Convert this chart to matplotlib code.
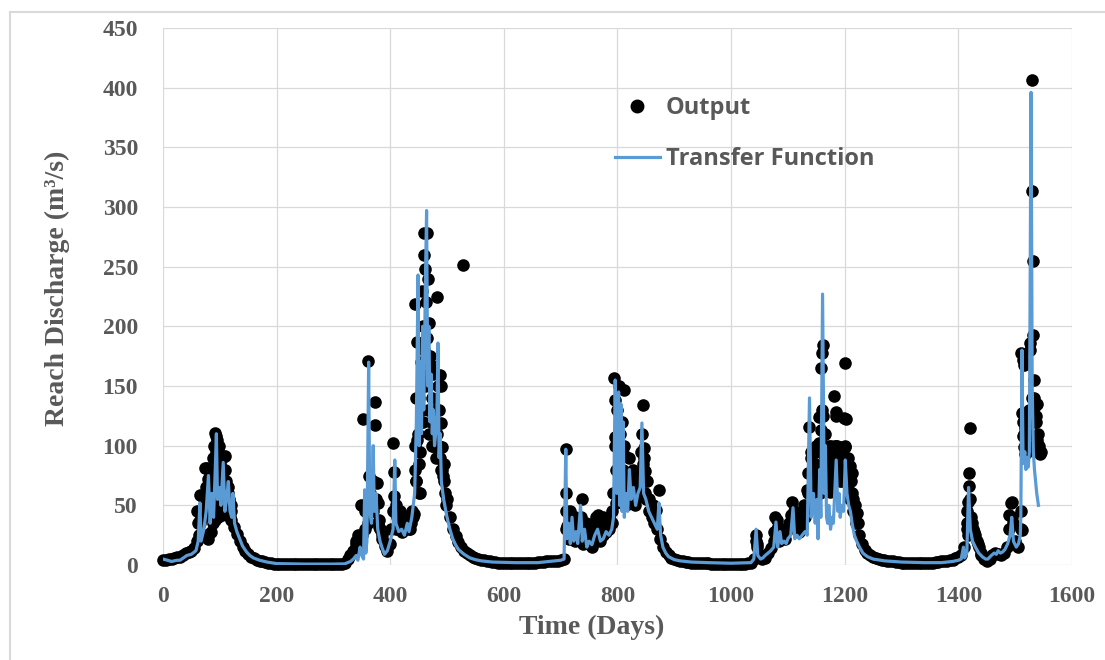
import numpy as np
import matplotlib
matplotlib.use("Agg")
import matplotlib.pyplot as plt
from matplotlib.lines import Line2D

# --- style ---
GRID_COLOR = "#d9d9d9"
TEXT_COLOR = "#595959"
TF_BLUE = "#5B9BD5"

plt.rcParams["font.family"] = ["Liberation Serif", "DejaVu Serif"]
plt.rcParams["font.weight"] = "bold"

# --- data: simulated reach output, one value every 5 days (days 0..1545) ---
output_days = np.arange(0, 1550, 5)
output_band = [
    4, 4, 5, 5, 6, 7, 7, 8, 10, 11,                  # 0-45
    12, 14, 20, 38, 48, 55, 45, 70, 60, 105,         # 50-95
    65, 80, 55, 45, 38, 32, 26, 20, 15, 12,          # 100-145
    9, 7, 5.5, 4.5, 3.5, 3, 2.5, 2, 1.5, 1.2,        # 150-195
    1, 1, 0.8, 0.8, 0.6, 0.6, 0.5, 0.5, 0.5, 0.5,    # 200-245
    0.5, 0.5, 0.5, 0.5, 0.5, 0.5, 0.5, 0.5, 0.5, 0.5,
    0.5, 0.5, 0.8, 1, 2, 5, 8, 12, 18, 15,           # 300-345
    25, 45, 35, 60, 45, 55, 32, 22, 16, 12,          # 350-395
    18, 45, 30, 35, 28, 32, 35, 30, 40, 70,          # 400-445
    60, 120, 180, 160, 130, 110, 100, 90, 80, 70,    # 450-495
    55, 40, 30, 24, 19, 15, 12, 10, 8, 7,            # 500-545
    6, 5, 4.5, 4, 3.5, 3, 2.5, 2.5, 2, 2,            # 550-595
    2, 2, 2, 2, 2, 2, 2, 2, 2, 2,                    # 600-645
    2, 2, 2.5, 2.5, 2.5, 3, 3, 3, 3.5, 3.5,          # 650-695
    4, 5, 30, 22, 35, 20, 25, 40, 18, 22,            # 700-745
    18, 15, 25, 30, 20, 25, 28, 30, 35, 100,         # 750-795
    80, 110, 60, 50, 65, 55, 50, 60, 70, 85,         # 800-845
    55, 45, 40, 35, 30, 22, 15, 11, 8, 6,            # 850-895
    5, 4, 3.5, 3, 2.5, 2.5, 2, 2, 2, 1.5,            # 900-945
    1.5, 1.5, 1.5, 1.2, 1.2, 1.2, 1, 1, 1, 1,        # 950-995
    1, 1, 1, 1, 1.2, 1.2, 1.5, 1.5, 5, 15,           # 1000-1045
    8, 5, 6, 10, 14, 20, 30, 20, 25, 22,             # 1050-1095
    30, 35, 45, 30, 28, 32, 40, 60, 90, 70,          # 1100-1145
    65, 80, 130, 100, 80, 70, 85, 100, 80, 75,       # 1150-1195
    100, 70, 55, 45, 35, 25, 18, 13, 10, 8,          # 1200-1245
    6.5, 5.5, 5, 4.5, 4, 3.5, 3, 3, 2.5, 2.5,        # 1250-1295
    2, 2, 2, 2, 2, 2, 2, 2, 2, 2,                    # 1300-1345
    2, 2, 2.5, 2.5, 3, 3, 3.5, 4, 4.5, 5.5,          # 1350-1395
    7, 8, 15, 30, 55, 30, 25, 18, 10, 5,             # 1400-1445
    3, 5, 8, 10, 9, 8, 10, 15, 30, 40,               # 1450-1495
    20, 15, 30, 110, 100, 130, 140, 120, 100, 95,    # 1500-1545
]

# extra daily output values inside the flood seasons (day, m3/s)
output_peaks_1 = [(59, 45), (62, 35), (65, 59), (68, 45), (72, 55), (74, 81), (77, 81),
                  (79, 72), (82, 77), (85, 50), (88, 90), (90, 100), (92, 111), (94, 108),
                  (96, 85), (98, 100), (100, 60), (102, 75), (104, 90), (106, 91), (108, 70),
                  (110, 91), (112, 55), (114, 60), (116, 50), (118, 40), (88, 35), (92, 38),
                  (97, 40), (103, 42), (75, 25), (80, 22), (85, 28), (86, 70), (87, 55),
                  (89, 45), (91, 65), (93, 95), (95, 75), (99, 50), (101, 85), (105, 65),
                  (107, 48), (109, 80), (111, 70), (113, 45), (115, 65), (117, 55), (119, 45),
                  (120, 50), (76, 65), (78, 55), (70, 40), (66, 35), (63, 25)]
output_peaks_2 = [(340, 20), (343, 25), (346, 22), (349, 50), (352, 122), (354, 50), (356, 30),
                  (361, 171), (363, 75), (365, 55), (367, 45), (370, 70), (373, 137), (374, 117),
                  (376, 69), (378, 52), (380, 38), (382, 30), (385, 25), (405, 102), (406, 78),
                  (407, 58), (409, 45), (412, 40), (420, 35), (430, 40), (438, 45), (441, 43),
                  (443, 80), (444, 100), (444, 219), (446, 140), (447, 187), (448, 105), (450, 85),
                  (452, 60), (454, 130), (456, 230), (458, 200), (459, 278), (460, 260), (461, 248),
                  (463, 220), (465, 278), (466, 240), (468, 203), (470, 175), (471, 168), (472, 120),
                  (474, 140), (476, 100), (478, 110), (480, 130), (482, 225), (484, 150), (486, 100),
                  (488, 159), (489, 150), (490, 119), (492, 99), (494, 85), (528, 251),
                  (402, 30), (410, 50), (414, 30), (417, 45), (423, 30), (426, 40), (433, 30),
                  (436, 35), (445, 70), (449, 110), (451, 140), (453, 95), (455, 170), (457, 120),
                  (462, 150), (464, 190), (467, 130), (469, 110), (473, 100), (475, 160),
                  (477, 130), (479, 100), (481, 90), (483, 110), (485, 130), (487, 90), (491, 80),
                  (493, 75), (496, 60), (498, 50)]
output_peaks_3 = [(709, 97), (709, 60), (710, 45), (712, 33), (716, 45), (720, 40), (724, 30),
                  (733, 35), (737, 55), (742, 30), (755, 30), (762, 40), (766, 42), (770, 30),
                  (780, 35), (786, 38), (790, 45), (793, 60), (794, 157), (795, 138), (796, 107),
                  (797, 80), (798, 52), (799, 130), (802, 150), (805, 90), (808, 120), (812, 147),
                  (814, 91), (816, 75), (819, 60), (822, 77), (826, 72), (830, 65), (834, 60),
                  (838, 62), (843, 80), (845, 134), (846, 98), (847, 90), (849, 79), (852, 70),
                  (855, 55), (862, 50), (868, 46), (873, 63), (800, 100), (803, 70), (806, 60),
                  (809, 80), (811, 100), (813, 65), (817, 55), (820, 90), (824, 60), (828, 80),
                  (832, 55), (836, 70), (840, 75), (842, 95), (844, 110), (848, 60), (718, 25),
                  (726, 40), (730, 30), (745, 35), (750, 25), (758, 35), (775, 40), (783, 30)]
output_peaks_4 = [(1043, 20), (1044, 25), (1046, 18), (1076, 28), (1078, 40), (1080, 38),
                  (1083, 32), (1085, 30), (1105, 42), (1108, 53), (1112, 40), (1120, 35),
                  (1130, 45), (1132, 44), (1134, 63), (1136, 77), (1138, 116), (1140, 95),
                  (1143, 60), (1147, 85), (1150, 100), (1152, 60), (1153, 80), (1154, 102),
                  (1155, 124), (1158, 113), (1159, 165), (1160, 178), (1161, 184), (1162, 125),
                  (1163, 100), (1165, 90), (1167, 75), (1168, 92), (1170, 95), (1172, 85),
                  (1174, 61), (1176, 100), (1178, 90), (1180, 75), (1182, 142), (1184, 128),
                  (1185, 125), (1187, 100), (1189, 95), (1191, 99), (1193, 90), (1195, 83),
                  (1198, 123), (1200, 169), (1201, 99), (1203, 122), (1205, 80), (1207, 75),
                  (1209, 83), (1210, 61), (1212, 77), (1215, 55), (1218, 50), (1221, 44), (1224, 35),
                  (1151, 70), (1156, 95), (1157, 60), (1164, 70), (1166, 110), (1169, 70),
                  (1171, 80), (1173, 100), (1175, 80), (1177, 70), (1179, 95), (1181, 85),
                  (1183, 100), (1186, 80), (1188, 75), (1190, 85), (1192, 70), (1194, 95),
                  (1196, 70), (1197, 90), (1199, 80), (1202, 90), (1204, 70), (1206, 90),
                  (1208, 60), (1211, 70), (1213, 60), (1145, 60), (1142, 75), (1148, 70),
                  (1102, 35), (1115, 40), (1118, 30), (1125, 38), (1128, 50)]
output_peaks_5 = [(1415, 35), (1416, 45), (1417, 53), (1418, 66), (1419, 77), (1420, 115),
                  (1417, 25), (1422, 40), (1424, 35), (1427, 28), (1432, 20), (1437, 15),
                  (1440, 8), (1490, 42), (1492, 52), (1494, 53), (1496, 35), (1511, 178),
                  (1511, 45), (1512, 29), (1512, 127), (1513, 108), (1513, 172), (1515, 168),
                  (1516, 99), (1518, 93), (1521, 100), (1523, 110), (1526, 186), (1530, 406),
                  (1530, 313), (1531, 255), (1532, 193), (1533, 155), (1535, 133), (1537, 125),
                  (1538, 135), (1540, 110), (1541, 100), (1543, 93), (1514, 120), (1517, 115),
                  (1519, 100), (1520, 95), (1522, 120), (1524, 100), (1527, 180), (1534, 140),
                  (1536, 120), (1539, 105), (1542, 100), (1544, 95)]

# transfer function model (day, m3/s), one list per season
tf_season_1 = [(0, 5), (8, 4), (15, 3), (25, 4), (30, 4), (36, 6), (42, 8), (50, 9), (58, 12),
               (62, 20), (65, 52), (67, 20), (72, 30), (76, 45), (80, 75), (83, 35), (86, 60),
               (89, 40), (92, 80), (94, 110), (96, 55), (99, 65), (102, 50), (106, 86), (109, 45),
               (112, 55), (115, 70), (118, 45), (121, 40), (123, 60), (126, 35), (130, 28),
               (135, 22), (140, 16), (147, 11), (153, 8), (159, 6), (170, 4), (183, 2.5),
               (200, 1.2), (250, 0.8), (300, 0.8), (320, 1)]
tf_season_2 = [(325, 2), (330, 3), (335, 5), (340, 8), (343, 4), (347, 15), (350, 8), (353, 5),
               (355, 63), (357, 10), (359, 20), (362, 170), (364, 45), (367, 35), (370, 100),
               (372, 45), (375, 60), (378, 30), (382, 20), (386, 14), (390, 9), (395, 12),
               (400, 20), (405, 30), (408, 88), (410, 35), (415, 28), (420, 30), (425, 25),
               (430, 35), (433, 28), (438, 40), (443, 60), (446, 120), (449, 243), (451, 100),
               (453, 170), (455, 110), (457, 200), (459, 130), (462, 240), (464, 297), (466, 150),
               (468, 200), (470, 120), (472, 160), (474, 110), (476, 130), (478, 100), (482, 120),
               (484, 186), (486, 90), (488, 110), (490, 70), (494, 55), (500, 40), (505, 30),
               (510, 22), (515, 17), (520, 13), (530, 9), (540, 6), (550, 4.5), (560, 3.5),
               (580, 2.5), (620, 2), (660, 2), (680, 3), (700, 4), (706, 5)]
tf_season_3 = [(709, 97), (711, 22), (714, 35), (717, 18), (720, 40), (723, 20), (727, 28),
               (730, 18), (735, 50), (738, 20), (742, 30), (746, 15), (750, 20), (755, 17),
               (760, 25), (765, 30), (770, 20), (775, 22), (780, 28), (785, 25), (790, 30),
               (793, 40), (796, 155), (799, 60), (802, 145), (804, 50), (806, 135), (808, 45),
               (810, 120), (812, 40), (815, 60), (818, 45), (821, 80), (824, 55), (828, 65),
               (832, 50), (836, 60), (840, 65), (843, 119), (846, 60), (850, 55), (855, 45),
               (860, 40), (865, 35), (870, 30), (873, 52), (876, 25), (880, 15), (885, 10),
               (890, 7), (900, 4.5), (910, 3.5), (930, 2.5), (960, 2), (1000, 1.5), (1035, 2)]
tf_season_4 = [(1040, 5), (1044, 30), (1047, 8), (1052, 5), (1056, 6), (1060, 8), (1065, 10),
               (1070, 12), (1075, 15), (1079, 36), (1082, 15), (1086, 28), (1089, 18), (1093, 20),
               (1097, 18), (1100, 22), (1105, 25), (1109, 48), (1112, 22), (1116, 25), (1120, 22),
               (1125, 25), (1130, 28), (1134, 25), (1138, 140), (1141, 40), (1145, 60), (1148, 35),
               (1151, 55), (1153, 22), (1156, 80), (1158, 40), (1161, 227), (1164, 60), (1166, 100),
               (1168, 40), (1170, 35), (1172, 50), (1175, 30), (1178, 40), (1180, 35), (1185, 88),
               (1188, 45), (1190, 60), (1192, 40), (1195, 50), (1198, 45), (1201, 88), (1204, 60),
               (1207, 50), (1210, 45), (1213, 35), (1217, 25), (1221, 20), (1226, 15), (1232, 10),
               (1240, 7), (1250, 5), (1270, 3.5), (1300, 2.5), (1340, 2), (1370, 2), (1390, 3),
               (1400, 4), (1405, 5)]
tf_season_5 = [(1409, 15), (1411, 6), (1415, 10), (1418, 65), (1421, 30), (1425, 20), (1430, 15),
               (1436, 10), (1442, 7), (1448, 5), (1452, 5), (1458, 8), (1463, 10), (1467, 9),
               (1470, 12), (1474, 10), (1478, 11), (1482, 13), (1487, 18), (1491, 25), (1494, 40),
               (1497, 20), (1502, 15), (1506, 18), (1509, 25), (1510, 40), (1512, 180), (1514, 85),
               (1517, 95), (1519, 80), (1521, 90), (1523, 82), (1525, 95), (1528, 396), (1530, 150),
               (1532, 95), (1534, 80), (1536, 70), (1538, 60), (1541, 50)]

x_ticks = [0, 200, 400, 600, 800, 1000, 1200, 1400, 1600]
y_ticks = [0, 50, 100, 150, 200, 250, 300, 350, 400, 450]


def main():
    peaks = output_peaks_1 + output_peaks_2 + output_peaks_3 + output_peaks_4 + output_peaks_5
    out_x = np.concatenate([output_days, [p[0] for p in peaks]])
    out_y = np.concatenate([output_band, [p[1] for p in peaks]])

    tf = tf_season_1 + tf_season_2 + tf_season_3 + tf_season_4 + tf_season_5
    tf_x = [p[0] for p in tf]
    tf_y = [p[1] for p in tf]

    fig = plt.figure(figsize=(11.05, 6.6), dpi=100)
    ax = fig.add_axes([0.1475, 0.1439, 0.8226, 0.8137])

    # outer chart frame (top and left edges only visible)
    fig.add_artist(Line2D([10 / 1105, 1], [1 - 12 / 660] * 2, transform=fig.transFigure,
                          color=GRID_COLOR, lw=1.5))
    fig.add_artist(Line2D([10 / 1105] * 2, [0, 1 - 12 / 660], transform=fig.transFigure,
                          color=GRID_COLOR, lw=1.5))

    ax.scatter(out_x, out_y, s=82, color="black", linewidths=0, zorder=2, clip_on=False)
    ax.plot(tf_x, tf_y, color=TF_BLUE, lw=2.3, zorder=3)

    ax.set_xlim(0, 1600)
    ax.set_ylim(0, 450)
    ax.set_xticks(x_ticks)
    ax.set_yticks(y_ticks)
    for s in ax.spines.values():
        s.set_visible(False)
    ax.grid(color=GRID_COLOR, lw=0.9)
    ax.set_axisbelow(True)
    ax.tick_params(axis="both", length=0, labelsize=17, labelcolor=TEXT_COLOR)
    ax.tick_params(axis="y", pad=18)
    ax.tick_params(axis="x", pad=15)

    ax.set_xlabel("Time (Days)", fontsize=20, color=TEXT_COLOR, fontweight="bold")
    ax.xaxis.label.set_va("center")
    ax.xaxis.set_label_coords(0.472, -0.117)
    ax.set_ylabel("Reach Discharge (m³/s)", fontsize=20, color=TEXT_COLOR, fontweight="bold")
    ax.yaxis.label.set_va("center")
    ax.yaxis.set_label_coords(-0.1166, 0.515)

    handles = [Line2D([], [], marker="o", color="black", ls="none", markersize=9),
               Line2D([], [], color=TF_BLUE, lw=2.3)]
    ax.legend(handles, ["Output", "Transfer Function"], loc="upper left",
              bbox_to_anchor=(0.497, 0.873), frameon=False,
              prop={"family": "Open Sans", "weight": "bold", "size": 17},
              labelcolor=TEXT_COLOR, handlelength=1.9, handletextpad=0.25,
              labelspacing=1.13, borderpad=0, borderaxespad=0)

    fig.savefig("out.png", dpi=100)
    plt.close(fig)


if __name__ == "__main__":
    main()
